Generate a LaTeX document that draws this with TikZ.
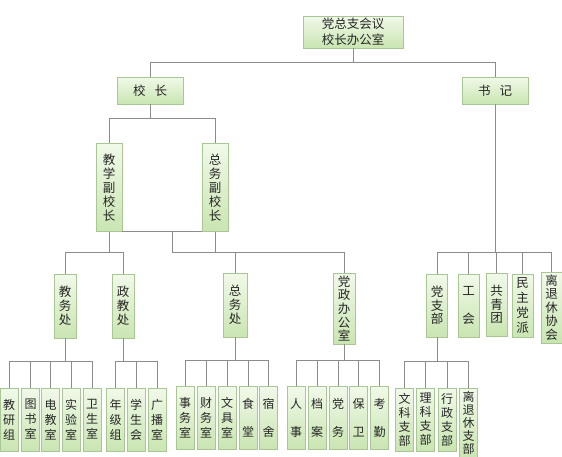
\documentclass[tikz,border=0pt]{standalone}
\usepackage{fontspec}
\setmainfont{Noto Sans CJK SC}
\definecolor{boxline}{HTML}{A9C795}
\definecolor{gtop}{HTML}{F1F9E9}
\definecolor{gbot}{HTML}{C9E5B1}
\definecolor{wirec}{HTML}{8C8C8C}
\definecolor{ink}{HTML}{262626}
\begin{document}
\begin{tikzpicture}[x=1pt,y=-1pt,
  bx/.style={draw=boxline, line width=0.6pt, top color=gtop, bottom color=gbot,
             inner sep=0pt, text=ink, align=center, font=\fontsize{12.5}{14}\selectfont},
  sz/.style 2 args={minimum width=#1pt, minimum height=#2pt},
  leaf/.style={bx, sz={18}{63}, font=\fontsize{12}{15}\selectfont},
  wire/.style={draw=wirec, line width=0.7pt}]
\useasboundingbox (0,0) rectangle (562,456);
\fill[white] (0,0) rectangle (562,456);

% --- top levels ---
\node[bx, sz={100}{32}, font=\fontsize{12.5}{16}\selectfont] (top) at (353,32) {党总支会议\\校长办公室};
\node[bx, sz={66}{27}, font=\fontsize{12.5}{14}\selectfont] (xz) at (150,90.5) {校\hspace{9pt}长};
\node[bx, sz={66}{27}, font=\fontsize{12.5}{14}\selectfont] (sj) at (495,90.5) {书\hspace{9pt}记};

\node[bx, sz={26}{88}] (jxfx) at (109,187.5) {教\\学\\副\\校\\长};
\node[bx, sz={26}{88}] (zwfx) at (215,187.5) {总\\务\\副\\校\\长};

% --- departments ---
\node[bx, sz={22}{64}] (jwc) at (65,306) {教\\务\\处};
\node[bx, sz={22}{64}] (zjc) at (123,306) {政\\教\\处};
\node[bx, sz={24}{64}] (zwc) at (235,305) {总\\务\\处};
\node[bx, sz={22}{71}, font=\fontsize{12.5}{13.7}\selectfont] (dzb) at (344,308.5) {党\\政\\办\\公\\室};

\node[bx, sz={21}{63}, font=\fontsize{12.5}{13.5}\selectfont] (dzbu) at (437,305.5) {党\\支\\部};
\node[bx, sz={21}{63}] (gh) at (468.5,305.5) {工\\[14pt]会};
\node[bx, sz={21}{63}, font=\fontsize{12.5}{13.5}\selectfont] (gqt) at (496.5,304.5) {共\\青\\团};
\node[bx, sz={21}{63}, font=\fontsize{12.5}{15}\selectfont] (mzdp) at (522.5,305.5) {民\\主\\党\\派};
\node[bx, sz={21}{71}, font=\fontsize{12.5}{13.5}\selectfont] (ltxh) at (551.5,307.5) {离\\退\\休\\协\\会};

% --- offices ---
\node[leaf] (a1) at (9,419.5) {教\\研\\组};
\node[leaf] (a2) at (30.5,419.5) {图\\书\\室};
\node[leaf] (a3) at (50.5,419.5) {电\\教\\室};
\node[leaf] (a4) at (71,419.5) {实\\验\\室};
\node[leaf] (a5) at (92,419.5) {卫\\生\\室};

\node[leaf] (b1) at (115.5,419.5) {年\\级\\组};
\node[leaf] (b2) at (136,419.5) {学\\生\\会};
\node[leaf] (b3) at (157,419.5) {广\\播\\室};

\node[leaf] (c1) at (185,418) {事\\务\\室};
\node[leaf] (c2) at (206,418) {财\\务\\室};
\node[leaf] (c3) at (227,418) {文\\具\\室};
\node[leaf] (c4) at (248,418) {食\\[13pt]堂};
\node[leaf] (c5) at (268.5,418) {宿\\[13pt]舍};

\node[leaf] (d1) at (296,418) {人\\[13pt]事};
\node[leaf] (d2) at (317,418) {档\\[13pt]案};
\node[leaf] (d3) at (338,418) {党\\[13pt]务};
\node[leaf] (d4) at (358.5,418) {保\\[13pt]卫};
\node[leaf] (d5) at (379.5,418) {考\\[13pt]勤};

\node[leaf, font=\fontsize{12}{14}\selectfont] (e1) at (404.5,419.5) {文\\科\\支\\部};
\node[leaf, font=\fontsize{12}{14}\selectfont] (e2) at (425.5,419.5) {理\\科\\支\\部};
\node[leaf, font=\fontsize{12}{14}\selectfont] (e3) at (447,419.5) {行\\政\\支\\部};
\node[leaf, sz={18}{70}, font=\fontsize{12}{13}\selectfont] (e4) at (468.5,423) {离\\退\\休\\支\\部};

% --- connectors ---
\foreach \c in {xz,sj} \draw[wire] (top.south) -- ++(0,14) -| (\c.north);
\foreach \c in {jxfx,zwfx} \draw[wire] (xz.south) -- ++(0,14) -| (\c.north);
\foreach \c in {jwc,zjc} \draw[wire] (jxfx.south) -- ++(0,20.5) -| (\c.north);
\foreach \c in {zwc,dzb} \draw[wire] (zwfx.south) -- ++(0,20.5) -| (\c.north);
\draw[wire] (jxfx.south east) -- (zwfx.south west);
\coordinate (vpmid) at (172,231.5);
\draw[wire] (vpmid) -- ++(0,20.5) -| (zwc.north);
\foreach \c in {dzbu,gh,gqt,mzdp,ltxh} \draw[wire] (sj.south) -- ++(0,148.5) -| (\c.north);

\foreach \c in {a1,a2,a3,a4,a5} \draw[wire] (jwc.south) -- ++(0,23) -| (\c.north);
\foreach \c in {b1,b2,b3} \draw[wire] (zjc.south) -- ++(0,23) -| (\c.north);
\foreach \c in {c1,c2,c3,c4,c5} \draw[wire] (zwc.south) -- ++(0,23.5) -| (\c.north);
\foreach \c in {d1,d2,d3,d4,d5} \draw[wire] (dzb.south) -- ++(0,16.5) -| (\c.north);
\foreach \c in {e1,e2,e3,e4} \draw[wire] (dzbu.south) -- ++(0,24) -| (\c.north);
\end{tikzpicture}
\end{document}
